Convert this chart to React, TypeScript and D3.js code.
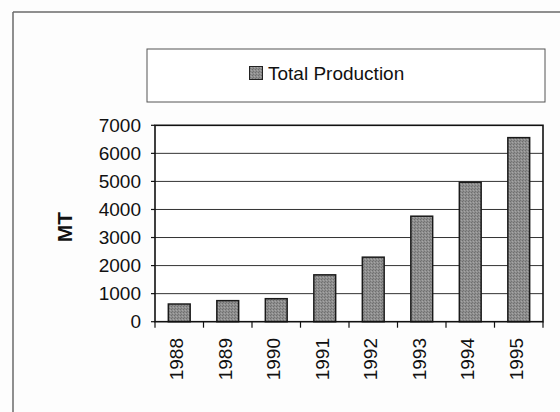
import React from "react";
import * as d3 from "d3";

// Annual production, metric tonnes
const years = ["1988", "1989", "1990", "1991", "1992", "1993", "1994", "1995"];
const production = [630, 750, 820, 1670, 2300, 3760, 4970, 6560];
const yTicks = [0, 1000, 2000, 3000, 4000, 5000, 6000, 7000];
const seriesName = "Total Production";
const yTitle = "MT";

const W = 560;
const H = 412;
const plot = { left: 155, right: 543, top: 125.3, bottom: 321.7 };
const FONT = "'Liberation Sans', Arial, sans-serif";

export default function App() {
  const x = d3
    .scaleBand<string>()
    .domain(years)
    .range([plot.left, plot.right])
    .paddingInner(0.55)
    .paddingOuter(0.275);
  const y = d3.scaleLinear().domain([0, 7000]).range([plot.bottom, plot.top]);
  const step = x.step();
  const boundaries = d3.range(years.length + 1).map((i) => plot.left + i * step);

  return (
    <svg
      width={W}
      height={H}
      style={{ position: "absolute", left: 0, top: 0, background: "#fdfdfd" }}
      fontFamily={FONT}
    >
      <defs>
        <pattern id="stipple" width="3" height="3" patternUnits="userSpaceOnUse">
          <rect width="3" height="3" fill="#8e8e8e" />
          <rect x="0" y="0" width="1" height="1" fill="#6e6e6e" />
          <rect x="2" y="1" width="1" height="1" fill="#a6a6a6" />
          <rect x="1" y="2" width="1" height="1" fill="#747474" />
        </pattern>
      </defs>

      {/* outer chart frame */}
      <line x1={13} y1={12} x2={W} y2={12} stroke="#6a6a6a" strokeWidth={1.5} />
      <line x1={13} y1={12} x2={13} y2={H} stroke="#6a6a6a" strokeWidth={1.5} />

      {/* legend */}
      <rect x={147} y={49} width={398} height={53} fill="#fff" stroke="#555" strokeWidth={1} />
      <rect x={249.5} y={66.5} width={13} height={13} fill="url(#stipple)" stroke="#222" strokeWidth={1} />
      <text x={268} y={73} dy="0.35em" fontSize={19} fill="#111">
        {seriesName}
      </text>

      {/* plot background and gridlines */}
      <rect
        x={plot.left}
        y={plot.top}
        width={plot.right - plot.left}
        height={plot.bottom - plot.top}
        fill="#fff"
      />
      {yTicks.slice(1, -1).map((t) => (
        <line key={t} x1={plot.left} x2={plot.right} y1={y(t)} y2={y(t)} stroke="#333" strokeWidth={1} />
      ))}

      {/* bars */}
      {years.map((yr, i) => (
        <rect
          key={yr}
          x={x(yr)}
          y={y(production[i])}
          width={x.bandwidth()}
          height={plot.bottom - y(production[i])}
          fill="url(#stipple)"
          stroke="#1a1a1a"
          strokeWidth={1.5}
        />
      ))}

      {/* plot border */}
      <rect
        x={plot.left}
        y={plot.top}
        width={plot.right - plot.left}
        height={plot.bottom - plot.top}
        fill="none"
        stroke="#111"
        strokeWidth={1.6}
      />

      {/* y axis ticks and labels */}
      {yTicks.map((t) => (
        <g key={t}>
          <line x1={151} x2={plot.left} y1={y(t)} y2={y(t)} stroke="#111" strokeWidth={1.2} />
          <text x={141} y={y(t)} dy="0.35em" textAnchor="end" fontSize={19} fill="#111">
            {t}
          </text>
        </g>
      ))}
      <text
        transform={`translate(65,227) rotate(-90)`}
        textAnchor="middle"
        dy="0.35em"
        fontSize={21}
        fontWeight="bold"
        fill="#111"
      >
        {yTitle}
      </text>

      {/* x axis ticks and labels */}
      {boundaries.map((bx, i) => (
        <line key={i} x1={bx} x2={bx} y1={plot.bottom} y2={plot.bottom + 6} stroke="#111" strokeWidth={1.2} />
      ))}
      {years.map((yr) => {
        const cx = (x(yr) as number) + x.bandwidth() / 2 - 2.5;
        return (
          <text
            key={yr}
            transform={`translate(${cx},338) rotate(-90)`}
            textAnchor="end"
            dy="0.35em"
            fontSize={19}
            fill="#111"
          >
            {yr}
          </text>
        );
      })}
    </svg>
  );
}
